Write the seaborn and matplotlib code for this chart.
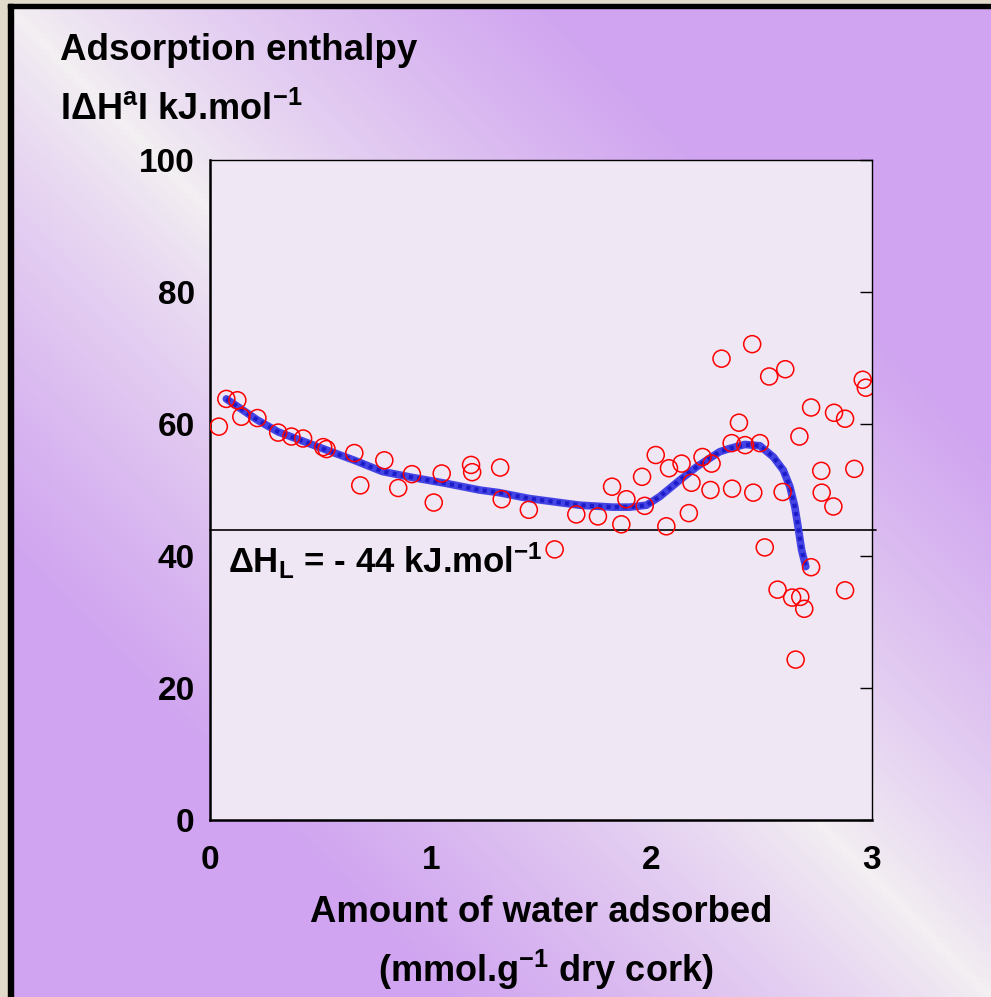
"""Adsorption enthalpy of water on cork."""
import matplotlib
matplotlib.use("Agg")
import matplotlib.pyplot as plt
import numpy as np
import pandas as pd
import seaborn as sns

# measured points: amount adsorbed (mmol/g) vs |dH| (kJ/mol)
water_x = [0.04, 0.074, 0.124, 0.142, 0.215, 0.309, 0.369, 0.422, 0.513, 0.528,
           0.654, 0.681, 0.790, 0.853, 0.915, 1.014, 1.050, 1.183, 1.188, 1.315,
           1.322, 1.445, 1.562, 1.660, 1.758, 1.822, 1.864, 1.887, 1.958, 1.970,
           2.020, 2.068, 2.080, 2.137, 2.170, 2.182, 2.232, 2.268, 2.273, 2.318,
           2.364, 2.366, 2.397, 2.425, 2.457, 2.462, 2.492, 2.514, 2.534, 2.572,
           2.595, 2.607, 2.638, 2.654, 2.671, 2.675, 2.693, 2.724, 2.724, 2.770,
           2.772, 2.825, 2.828, 2.878, 2.878, 2.920, 2.958, 2.972]
enthalpy = [59.6, 63.8, 63.6, 61.1, 60.9, 58.7, 58.1, 57.8, 56.5, 56.2,
            55.6, 50.7, 54.5, 50.3, 52.4, 48.1, 52.5, 53.8, 52.7, 53.4,
            48.6, 47.0, 41.0, 46.3, 46.0, 50.5, 44.8, 48.6, 52.0, 47.6,
            55.3, 44.5, 53.3, 54.0, 46.5, 51.1, 55.0, 50.0, 54.0, 69.9,
            57.1, 50.2, 60.2, 56.8, 72.1, 49.6, 57.1, 41.3, 67.2, 34.9,
            49.7, 68.3, 33.7, 24.3, 58.1, 33.8, 32.0, 62.5, 38.3, 52.9,
            49.6, 47.5, 61.7, 60.8, 34.8, 53.2, 66.7, 65.5]

# fitted curve
fit_x = [0.074, 0.215, 0.309, 0.525, 0.654, 0.781, 0.917, 1.07, 1.221, 1.31,
         1.448, 1.675, 1.826, 1.902, 1.978, 2.038, 2.129, 2.205, 2.31, 2.356,
         2.424, 2.492, 2.553, 2.598, 2.628, 2.65, 2.666, 2.681, 2.70]
fit_y = [63.8, 60.6, 58.8, 56.1, 54.5, 52.8, 51.9, 51.0, 50.0, 49.6,
         48.7, 47.7, 47.4, 47.4, 47.7, 49.0, 51.5, 53.5, 55.8, 56.3,
         56.9, 56.7, 55.0, 53.0, 50.5, 47.5, 44.2, 40.9, 38.4]

latent_heat = 44
x_ticks = [0, 1, 2, 3]
y_ticks = [0, 20, 40, 60, 80, 100]

sns.set_theme(style="white")
plt.rcParams["font.family"] = ["Liberation Sans", "DejaVu Sans"]
plt.rcParams["font.weight"] = "bold"
plt.rcParams["text.color"] = "black"
plt.rcParams["xtick.color"] = "black"
plt.rcParams["ytick.color"] = "black"
plt.rcParams["mathtext.fontset"] = "custom"
plt.rcParams["mathtext.rm"] = "Liberation Sans:bold"
plt.rcParams["mathtext.bf"] = "Liberation Sans:bold"
plt.rcParams["mathtext.it"] = "Liberation Sans:bold"
plt.rcParams["mathtext.default"] = "bf"

W, H = 991, 997
fig = plt.figure(figsize=(W / 100, H / 100), dpi=100)

# slide background: purple towards top-right / bottom-left, pale elsewhere
bg = fig.add_axes([0, 0, 1, 1], zorder=-10)
u = np.linspace(0, 1, 200)[None, :]
v = np.linspace(0, 1, 200)[:, None]
w = np.clip(np.abs(u - v) * 1.8, 0, 1) ** 0.8
light = np.array([243, 240, 242]) / 255
purple = np.array([208, 164, 240]) / 255
img = light[None, None, :] * (1 - w[..., None]) + purple[None, None, :] * w[..., None]
bg.imshow(img, extent=[0, W, H, 0], aspect="auto")
bg.add_patch(plt.Rectangle((0, 0), 8, H, color="#e2dacb"))
bg.add_patch(plt.Rectangle((0, 0), W, 4, color="#e2dacb"))
bg.add_patch(plt.Rectangle((8, 4), 5, H, color="black"))
bg.add_patch(plt.Rectangle((8, 4), W, 4, color="black"))
bg.set_xlim(0, W)
bg.set_ylim(H, 0)
bg.axis("off")

ax = fig.add_axes([210 / W, 177 / H, 662 / W, 660 / H])
ax.set_facecolor("#f0e7f5")

df = pd.DataFrame({"x": water_x, "y": enthalpy})
fit = pd.DataFrame({"x": fit_x, "y": fit_y})

ax.axhline(latent_heat, color="black", lw=1.2, zorder=1, clip_on=False, xmax=1.006)
sns.lineplot(data=fit, x="x", y="y", ax=ax, color="#4444e4", lw=5.5, sort=False, zorder=2)
sns.lineplot(data=fit, x="x", y="y", ax=ax, color="#1c1cc8", lw=3, sort=False,
             linestyle=(0, (1, 1)), zorder=3)
sns.scatterplot(data=df, x="x", y="y", ax=ax, marker="o", s=150,
                facecolor="none", edgecolor="red", linewidth=1.1, zorder=4)

ax.set_xlim(0, 3)
ax.set_ylim(0, 100)
ax.set_xticks(x_ticks)
ax.set_yticks(y_ticks)
ax.tick_params(direction="in", length=9, width=1, right=True, labelsize=24,
               colors="black")
ax.tick_params(axis="x", pad=18)
ax.tick_params(axis="y", pad=11)
for lab in ax.get_xticklabels() + ax.get_yticklabels():
    lab.set_fontweight("bold")
for side in ["left", "bottom"]:
    ax.spines[side].set_linewidth(1.8)
for side in ["top", "right"]:
    ax.spines[side].set_linewidth(1.0)
for s in ax.spines.values():
    s.set_color("black")
ax.set_xlabel("")
ax.set_ylabel("")

ax.text(0.08, 39.2, "ΔH$_{L}$ = - 44 kJ.mol$^{-1}$", fontsize=25, fontweight="bold",
        va="center", ha="left")

fig.text(60 / W, 1 - 50 / H, "Adsorption enthalpy", fontsize=26.5, fontweight="bold",
         va="center", ha="left")
fig.text(60 / W, 1 - 110 / H, "IΔH$^{a}$I kJ.mol$^{-1}$", fontsize=26,
         fontweight="bold", va="center", ha="left")
fig.text(541 / W, 1 - 912 / H, "Amount of water adsorbed", fontsize=26.3,
         fontweight="bold", va="center", ha="center")
fig.text(546 / W, 1 - 970 / H, "(mmol.g$^{-1}$ dry cork)", fontsize=26,
         fontweight="bold", va="center", ha="center")

fig.savefig("out.png", dpi=100)
